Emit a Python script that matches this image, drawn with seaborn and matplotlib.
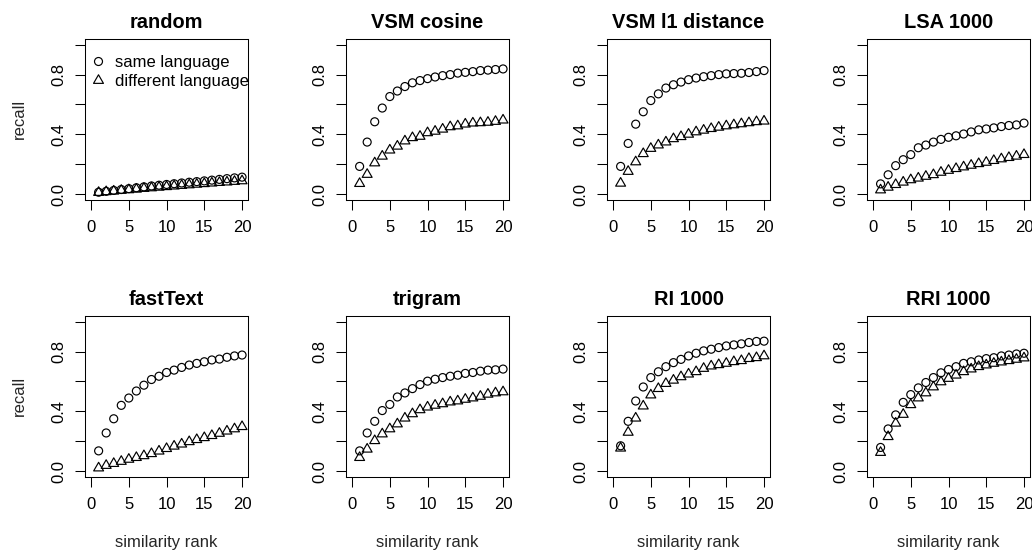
import matplotlib
matplotlib.use("Agg")
import matplotlib.pyplot as plt
from matplotlib.lines import Line2D
from matplotlib.path import Path
import pandas as pd
import seaborn as sns

# similarity rank 1..20
ranks = list(range(1, 21))

methods = ["random", "VSM cosine", "VSM l1 distance", "LSA 1000",
           "fastText", "trigram", "RI 1000", "RRI 1000"]

# recall values (same language / different language)
same_random = [0.012, 0.018, 0.024, 0.030, 0.036, 0.042, 0.048, 0.054, 0.059, 0.064,
               0.069, 0.074, 0.079, 0.083, 0.088, 0.093, 0.098, 0.103, 0.108, 0.113]
diff_random = [0.010, 0.015, 0.019, 0.024, 0.028, 0.032, 0.037, 0.041, 0.045, 0.049,
               0.053, 0.057, 0.061, 0.065, 0.069, 0.073, 0.077, 0.080, 0.084, 0.088]

same_vsm_cos = [0.185, 0.348, 0.484, 0.576, 0.653, 0.690, 0.720, 0.745, 0.760, 0.773,
                0.784, 0.793, 0.800, 0.810, 0.815, 0.820, 0.827, 0.830, 0.834, 0.838]
diff_vsm_cos = [0.070, 0.131, 0.208, 0.253, 0.294, 0.320, 0.355, 0.377, 0.386, 0.410,
                0.420, 0.434, 0.450, 0.456, 0.468, 0.475, 0.477, 0.480, 0.486, 0.495]

same_vsm_l1 = [0.185, 0.339, 0.468, 0.551, 0.626, 0.671, 0.710, 0.732, 0.750, 0.766,
               0.777, 0.786, 0.793, 0.800, 0.805, 0.807, 0.809, 0.814, 0.820, 0.827]
diff_vsm_l1 = [0.072, 0.151, 0.215, 0.270, 0.305, 0.328, 0.348, 0.370, 0.384, 0.400,
               0.416, 0.427, 0.438, 0.447, 0.456, 0.463, 0.470, 0.477, 0.484, 0.488]

same_lsa = [0.068, 0.129, 0.190, 0.230, 0.264, 0.310, 0.328, 0.348, 0.366, 0.380,
            0.390, 0.402, 0.416, 0.430, 0.436, 0.443, 0.452, 0.459, 0.463, 0.475]
diff_lsa = [0.027, 0.045, 0.063, 0.079, 0.095, 0.106, 0.118, 0.129, 0.145, 0.158,
            0.170, 0.181, 0.192, 0.203, 0.212, 0.224, 0.235, 0.244, 0.253, 0.264]

same_fasttext = [0.135, 0.255, 0.350, 0.440, 0.489, 0.536, 0.575, 0.613, 0.635, 0.660,
                 0.676, 0.694, 0.710, 0.721, 0.732, 0.744, 0.750, 0.762, 0.771, 0.777]
diff_fasttext = [0.020, 0.037, 0.050, 0.064, 0.078, 0.090, 0.102, 0.116, 0.133, 0.150,
                 0.166, 0.180, 0.196, 0.210, 0.223, 0.237, 0.252, 0.267, 0.282, 0.297]

same_trigram = [0.135, 0.255, 0.333, 0.405, 0.446, 0.496, 0.523, 0.552, 0.579, 0.602,
                0.615, 0.626, 0.635, 0.642, 0.654, 0.660, 0.669, 0.676, 0.678, 0.683]
diff_trigram = [0.090, 0.146, 0.203, 0.248, 0.282, 0.315, 0.354, 0.383, 0.410, 0.428,
                0.440, 0.450, 0.462, 0.469, 0.480, 0.489, 0.500, 0.514, 0.523, 0.530]

same_ri = [0.169, 0.333, 0.469, 0.563, 0.626, 0.665, 0.699, 0.726, 0.748, 0.771,
           0.789, 0.805, 0.816, 0.827, 0.838, 0.845, 0.852, 0.861, 0.868, 0.870]
diff_ri = [0.153, 0.259, 0.354, 0.435, 0.509, 0.552, 0.586, 0.608, 0.631, 0.649,
           0.665, 0.687, 0.703, 0.712, 0.721, 0.732, 0.739, 0.753, 0.759, 0.771]

same_rri = [0.158, 0.282, 0.376, 0.460, 0.512, 0.557, 0.593, 0.626, 0.658, 0.680,
            0.699, 0.721, 0.732, 0.744, 0.753, 0.759, 0.771, 0.777, 0.784, 0.789]
diff_rri = [0.124, 0.230, 0.320, 0.379, 0.444, 0.489, 0.523, 0.563, 0.597, 0.620,
            0.642, 0.665, 0.683, 0.699, 0.710, 0.721, 0.730, 0.739, 0.748, 0.757]

same_lists = [same_random, same_vsm_cos, same_vsm_l1, same_lsa,
              same_fasttext, same_trigram, same_ri, same_rri]
diff_lists = [diff_random, diff_vsm_cos, diff_vsm_l1, diff_lsa,
              diff_fasttext, diff_trigram, diff_ri, diff_rri]

rows = []
for m, s, d in zip(methods, same_lists, diff_lists):
    for r, vs, vd in zip(ranks, s, d):
        rows.append((m, r, vs, "same language"))
        rows.append((m, r, vd, "different language"))
df = pd.DataFrame(rows, columns=["method", "rank", "recall", "language"])

sns.set_style("ticks")
plt.rcParams["font.family"] = ["Liberation Sans", "DejaVu Sans"]
plt.rcParams.update({
    "axes.linewidth": 0.75,
    "axes.edgecolor": "black",
    "xtick.color": "black",
    "ytick.color": "black",
    "xtick.major.width": 0.75,
    "ytick.major.width": 0.75,
    "xtick.major.size": 7,
    "ytick.major.size": 7,
    "xtick.labelsize": 12,
    "ytick.labelsize": 12,
    "text.color": "black",
})

# R style triangle (centred on its centroid)
tri = Path([(0, 1), (-0.866, -0.5), (0.866, -0.5), (0, 1)], closed=True)
circle_s = 33
tri_s = 68
lw = 0.85

fig = plt.figure(figsize=(10.32, 5.54), dpi=100)
lefts = [0.0824, 0.3353, 0.5882, 0.8401]
bottoms = [0.639, 0.139]
w, h = 0.158, 0.291

for i, m in enumerate(methods):
    row, col = divmod(i, 4)
    ax = fig.add_axes([lefts[col], bottoms[row], w, h])
    sub = df[df["method"] == m]
    sns.scatterplot(data=sub[sub["language"] == "same language"], x="rank", y="recall",
                    marker="o", s=circle_s, facecolor="none", edgecolor="black",
                    linewidth=lw, ax=ax, legend=False)
    sns.scatterplot(data=sub[sub["language"] == "different language"], x="rank", y="recall",
                    marker=tri, s=tri_s, facecolor="none", edgecolor="black",
                    linewidth=lw, ax=ax, legend=False)
    ax.set_xlim(-0.8, 20.8)
    ax.set_ylim(-0.04, 1.04)
    ax.set_xticks([0, 5, 10, 15, 20])
    ax.set_yticks([0, 0.2, 0.4, 0.6, 0.8, 1.0])
    ax.set_yticklabels(["0.0", "", "0.4", "", "0.8", ""])
    ax.tick_params(axis="y", labelrotation=90, pad=6.5)
    ax.tick_params(axis="x", pad=7.5)
    for lab in ax.get_yticklabels():
        lab.set_va("center")
    ax.set_title(m, fontsize=14.4, fontweight="bold", pad=8)
    if col == 0:
        ax.set_ylabel("recall", fontsize=12)
        ax.yaxis.set_label_coords(-0.359, 0.5)
    else:
        ax.set_ylabel("")
    if row == 1:
        ax.set_xlabel("similarity rank", fontsize=12)
        ax.xaxis.set_label_coords(0.5, -0.36)
    else:
        ax.set_xlabel("")
    if i == 0:
        handles = [
            Line2D([], [], marker="o", linestyle="none", markerfacecolor="none",
                   markeredgecolor="black", markeredgewidth=lw, markersize=circle_s ** 0.5),
            Line2D([], [], marker=tri, linestyle="none", markerfacecolor="none",
                   markeredgecolor="black", markeredgewidth=lw, markersize=tri_s ** 0.5),
        ]
        ax.legend(handles, ["same language", "different language"], loc="upper left",
                  bbox_to_anchor=(0, 0.95), frameon=False, fontsize=12,
                  borderaxespad=0.3, borderpad=0.2, handlelength=0.6,
                  handletextpad=0.67, labelspacing=0.23)

fig.savefig("out.png", dpi=100)
